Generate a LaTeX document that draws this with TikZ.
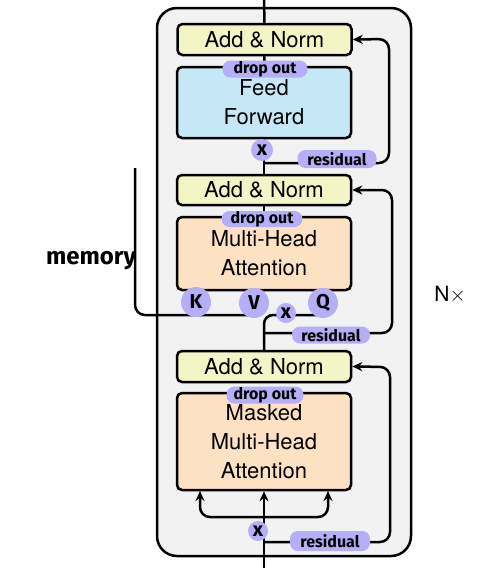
\documentclass[tikz,border=0pt]{standalone}
\usepackage{fontspec}
\setmainfont{TeX Gyre Heros}
\newfontfamily\hand{Fira Sans}
\usetikzlibrary{arrows.meta,shapes.geometric}
\definecolor{ynorm}{HTML}{F3F5C6}
\definecolor{bff}{HTML}{C6E8F6}
\definecolor{patt}{HTML}{FDE1C3}
\definecolor{hl}{HTML}{B6AFF7}
\definecolor{bg}{HTML}{F2F2F2}
\begin{document}
\begin{tikzpicture}[x=1pt,y=-1pt,
  line width=2.5pt,
  blk/.style={draw, line width=2.5pt, rounded corners=5pt, minimum width=174pt,
     inner sep=0pt, align=center, font=\fontsize{22}{29}\selectfont},
  pill/.style={fill=hl, rounded corners=8pt, inner sep=0pt, font=\hand\bfseries\fontsize{16}{16}\selectfont},
  dot/.style={fill=hl, circle, inner sep=0pt, font=\hand\bfseries\fontsize{20}{20}\selectfont},
  tip/.style={-{Stealth[length=10pt,width=9pt]}}
]
\useasboundingbox (0,0) rectangle (486,568);
% outer block
\node[draw, line width=2.5pt, fill=bg, rounded corners=20pt, minimum width=254pt, minimum height=548pt, inner sep=0] (outer) at (284,282) {};
% boxes
\node[blk, fill=ynorm, minimum height=31pt] (an1) at (264.5,39.5) {Add \& Norm};
\node[blk, fill=bff, minimum height=71pt] (ff) at (264,102.5) {Feed\\Forward};
\node[blk, fill=ynorm, minimum height=30pt] (an2) at (264,190) {Add \& Norm};
\node[blk, fill=patt, minimum height=73pt] (mha) at (264,253.5) {Multi-Head\\Attention};
\node[blk, fill=ynorm, minimum height=31pt] (an3) at (264,366.5) {Add \& Norm};
\node[blk, fill=patt, minimum height=97pt] (mmha) at (264,441.5) {Masked\\Multi-Head\\Attention};
\node[font=\fontsize{21}{21}\selectfont] (nx) at (450,295) {N$\times$};
% coordinates
\coordinate (top) at (264,0);
\coordinate (bot) at (264,568);
\coordinate (r1a) at (264,163);
\coordinate (r1b) at (389,39);
\coordinate (r2a) at (264,333);
\coordinate (r2b) at (392,190);
\coordinate (r3a) at (264,542);
\coordinate (r3b) at (390,367);
\coordinate (qend) at (318,315);
\coordinate (mtop) at (135,168);
\coordinate (mend) at (253,315);
\coordinate (split) at (264,517);
\coordinate (la) at (200,491);
\coordinate (ra) at (328,491);
% connectors
\draw (top) -- (an1.north);
\draw (ff.north) -- (an1.south);
\draw (an2.north) -- (ff.south);
\draw (mha.north) -- (an2.south);
\draw[rounded corners=9pt] (an3.north) |- (qend);
\draw[rounded corners=10pt] (mtop) |- (mend);
\draw[tip] (bot) -- (mmha.south);
\draw[tip, rounded corners=10pt] (split) -| (la);
\draw[tip, rounded corners=10pt] (split) -| (ra);
\draw[tip, rounded corners=10pt] (r1a) -| (r1b) -- (an1.east);
\draw[tip, rounded corners=10pt] (r2a) -| (r2b) -- (an2.east);
\draw[tip, rounded corners=10pt] (r3a) -| (r3b) -- (an3.east);
% handwritten labels
\node[pill, minimum width=85pt, minimum height=17pt] (dA) at (265,69) {drop out};
\node[pill, minimum width=81pt, minimum height=16pt] (dB) at (262,219) {drop out};
\node[pill, minimum width=77pt, minimum height=17pt] (dC) at (265,395) {drop out};
\node[pill, minimum width=79pt, minimum height=18pt] (rA) at (337,159) {residual};
\node[pill, minimum width=78pt, minimum height=17pt] (rB) at (331,335) {residual};
\node[pill, minimum width=80pt, minimum height=20pt] (rC) at (330,541) {residual};
\node[dot, minimum size=22pt] (xA) at (262,150) {x};
\node[dot, minimum size=20pt] (xB) at (286,313) {x};
\node[dot, minimum size=20pt] (xC) at (258,531) {x};
\node[dot, minimum size=30pt] (K) at (196,302) {K};
\node[dot, minimum size=30pt] (V) at (254,303) {V};
\node[dot, minimum size=30pt] (Q) at (323,303) {Q};
\node[font=\hand\bfseries\fontsize{24}{24}\selectfont] (mem) at (91,261) {memory};
\end{tikzpicture}
\end{document}
